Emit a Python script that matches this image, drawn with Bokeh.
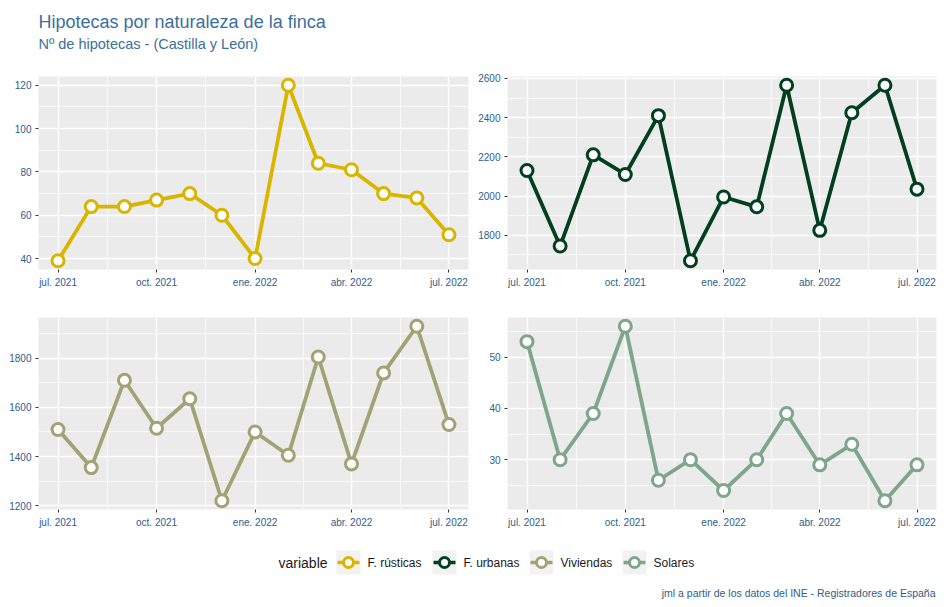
import pandas as pd
from bokeh.plotting import figure
from bokeh.layouts import column, row
from bokeh.models import Range1d, FixedTicker
from bokeh.core.properties import value
from bokeh.embed import file_html
from bokeh.resources import INLINE

# ---------------- data ----------------
months = ["2021-07-01", "2021-08-01", "2021-09-01", "2021-10-01", "2021-11-01",
          "2021-12-01", "2022-01-01", "2022-02-01", "2022-03-01", "2022-04-01",
          "2022-05-01", "2022-06-01", "2022-07-01"]
rusticas = [39, 64, 64, 67, 70, 60, 40, 120, 84, 81, 70, 68, 51]
urbanas = [2130, 1745, 2210, 2110, 2410, 1670, 1995, 1945, 2565, 1825, 2425, 2565, 2035]
viviendas = [1510, 1355, 1710, 1515, 1635, 1220, 1500, 1405, 1805, 1370, 1740, 1930, 1530]
solares = [53, 30, 39, 56, 26, 30, 24, 30, 39, 29, 33, 22, 29]

series_names = ["F. rústicas", "F. urbanas", "Viviendas", "Solares"]
series_values = [rusticas, urbanas, viviendas, solares]
series_colors = ["#D9B500", "#013F1E", "#A2A275", "#7FA68B"]

tick_dates = ["2021-07-01", "2021-10-01", "2022-01-01", "2022-04-01", "2022-07-01"]
tick_labels = ["jul. 2021", "oct. 2021", "ene. 2022", "abr. 2022", "jul. 2022"]

y_major = [[40, 60, 80, 100, 120], [1800, 2000, 2200, 2400, 2600],
           [1200, 1400, 1600, 1800], [30, 40, 50]]
y_minor = [[50, 70, 90, 110], [1700, 1900, 2100, 2300, 2500],
           [1300, 1500, 1700, 1900], [25, 35, 45, 55]]

title = "Hipotecas por naturaleza de la finca"
subtitle = "Nº de hipotecas - (Castilla y León)"
caption = "jml a partir de los datos del INE - Registradores de España"

# ---------------- helpers ----------------
FONT = "Liberation Sans"
BLUE = "#2E5D8C"
start = pd.Timestamp(months[0])
xd = [(pd.Timestamp(m) - start).days for m in months]
xt = [(pd.Timestamp(m) - start).days for m in tick_dates]
x_minor = [(a + b) / 2 for a, b in zip(xt[:-1], xt[1:])]
xspan = max(xd) - min(xd)
x_lo, x_hi = min(xd) - 0.05 * xspan, max(xd) + 0.05 * xspan


def panel(i, width, height, bl, br, bt, bb):
    vals = series_values[i]
    lo, hi = min(vals), max(vals)
    pad = 0.05 * (hi - lo)
    p = figure(width=width, height=height, output_backend="svg", toolbar_location=None,
               x_range=Range1d(x_lo, x_hi), y_range=Range1d(lo - pad, hi + pad))
    p.min_border_left = bl
    p.min_border_right = br
    p.min_border_top = bt
    p.min_border_bottom = bb
    p.background_fill_color = "#EBEBEB"
    p.border_fill_color = "white"
    p.outline_line_color = None
    p.xaxis.ticker = FixedTicker(ticks=xt, minor_ticks=x_minor)
    p.xaxis.major_label_overrides = {t: l for t, l in zip(xt, tick_labels)}
    p.yaxis.ticker = FixedTicker(ticks=y_major[i], minor_ticks=y_minor[i])
    for ax in (p.xaxis[0], p.yaxis[0]):
        ax.axis_line_color = None
        ax.major_tick_line_color = "#333333"
        ax.major_tick_line_width = 1
        ax.major_tick_out = 3
        ax.major_tick_in = 0
        ax.minor_tick_line_color = None
        ax.major_label_text_font = FONT
        ax.major_label_text_font_size = "10px"
        ax.major_label_text_color = BLUE
        ax.major_label_standoff = 3
    for g in (p.xgrid[0], p.ygrid[0]):
        g.grid_line_color = "white"
        g.grid_line_width = 1.4
        g.minor_grid_line_color = "white"
        g.minor_grid_line_width = 0.7
    p.line(xd, vals, line_color=series_colors[i], line_width=3.8)
    p.scatter(xd, vals, size=12, line_width=3, line_color=series_colors[i],
              fill_color="white")
    return p


p1 = panel(0, 472, 220, 38, 4, 6, 21)
p2 = panel(1, 466, 220, 35, 2, 6, 21)
p3 = panel(2, 472, 240, 38, 4, 27, 21)
p4 = panel(3, 466, 240, 35, 2, 27, 21)

# ---------------- header ----------------
W = 938
head = figure(width=W, height=70, output_backend="svg", toolbar_location=None,
              x_range=Range1d(0, W), y_range=Range1d(70, 0),
              x_axis_location=None, y_axis_location=None)
head.min_border = 0
head.outline_line_color = None
head.grid.visible = False
head.text(x=[38], y=[21], text=[title], text_font=value(FONT),
          text_font_size=value("18px"), text_color="#3C6E9E",
          text_baseline="alphabetic", text_align="left")
head.text(x=[38], y=[43.5], text=[subtitle], text_font=value(FONT),
          text_font_size=value("14.5px"), text_color="#3C6E9E",
          text_baseline="alphabetic", text_align="left")

# ---------------- legend / caption ----------------
leg = figure(width=W, height=70, output_backend="svg", toolbar_location=None,
             x_range=Range1d(0, W), y_range=Range1d(70, 0),
             x_axis_location=None, y_axis_location=None)
leg.min_border = 0
leg.outline_line_color = None
leg.grid.visible = False
leg.text(x=[278], y=[32], text=["variable"], text_font=value(FONT),
         text_font_size=value("14px"), text_color="#1A1A1A",
         text_baseline="middle", text_align="left")
key_x = [336, 432, 529, 622]
for kx, name, col in zip(key_x, series_names, series_colors):
    leg.quad(left=[kx], right=[kx + 24], top=[20], bottom=[44],
             fill_color="#F2F2F2", line_color=None)
    leg.line([kx + 1, kx + 23], [32, 32], line_color=col, line_width=3.5)
    leg.scatter([kx + 12], [32], size=10, line_width=3, line_color=col,
                fill_color="white")
    leg.text(x=[kx + 31], y=[32], text=[name], text_font=value(FONT),
             text_font_size=value("12px"), text_color="#1A1A1A",
             text_baseline="middle", text_align="left")
leg.text(x=[935], y=[62], text=[caption], text_font=value(FONT),
         text_font_size=value("10.5px"), text_color=BLUE,
         text_baseline="middle", text_align="right")

layout = column(head, row(p1, p2), row(p3, p4), leg)
open("out.html", "w").write(file_html(layout, INLINE))
